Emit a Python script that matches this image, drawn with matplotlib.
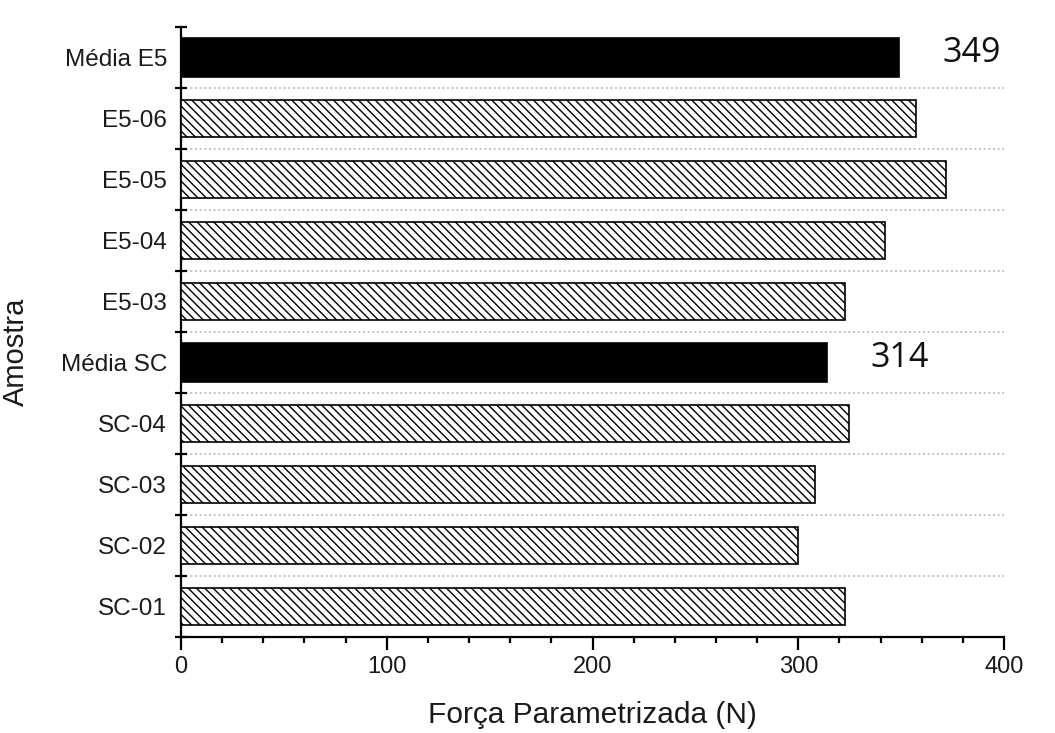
import matplotlib
matplotlib.use("Agg")
import matplotlib.pyplot as plt
from matplotlib.ticker import MultipleLocator, FixedLocator

plt.rcParams["font.family"] = ["Liberation Sans", "DejaVu Sans"]
plt.rcParams["hatch.linewidth"] = 1.0

# Sample names, bottom to top
amostras = ["SC-01", "SC-02", "SC-03", "SC-04", "Média SC",
            "E5-03", "E5-04", "E5-05", "E5-06", "Média E5"]
forca = [322.6, 300, 308, 324.8, 314,
         322.6, 342.2, 371.8, 357.1, 349]
is_media = [False, False, False, False, True,
            False, False, False, False, True]

fig = plt.figure(figsize=(10.55, 7.33), dpi=100)
ax = fig.add_axes([0.1716, 0.131, 0.7801, 0.8322])

pos = list(range(len(amostras)))
for p, v, m in zip(pos, forca, is_media):
    if m:
        ax.barh(p, v, height=0.63, color="black", edgecolor="black",
                linewidth=1.2, zorder=3)
        ax.annotate(f"{v:.0f}", xy=(v, p), xytext=(31, 3),
                    textcoords="offset points", ha="left", va="center",
                    fontsize=24.5, family=["Open Sans", "DejaVu Sans"],
                    color="#111111")
    else:
        ax.barh(p, v, height=0.61, color="white", edgecolor="black",
                hatch="\\\\\\\\", linewidth=1.2, zorder=3)

# Dotted separators between samples
for b in [p + 0.5 for p in pos[:-1]]:
    ax.plot([0, 400], [b, b], color="#c4c4c4", linestyle=(0, (1.0, 1.4)),
            linewidth=1.4, zorder=1)

ax.set_xlim(0, 400)
ax.set_ylim(-0.5, 9.5)

ax.spines["top"].set_visible(False)
ax.spines["right"].set_visible(False)
ax.spines["left"].set_linewidth(1.6)
ax.spines["bottom"].set_linewidth(1.6)

ax.xaxis.set_major_locator(MultipleLocator(100))
ax.xaxis.set_minor_locator(MultipleLocator(20))
ax.tick_params(axis="x", which="major", direction="out", length=9,
               width=1.6, labelsize=17, pad=5, labelcolor="#1a1a1a")
ax.tick_params(axis="x", which="minor", direction="out", length=4.5,
               width=1.6)

ax.set_yticks(pos)
ax.set_yticklabels(amostras)
ax.yaxis.set_minor_locator(FixedLocator([p - 0.5 for p in pos] + [9.5]))
ax.tick_params(axis="y", which="major", length=0, labelsize=17.5, pad=10,
               labelcolor="#1a1a1a")
ax.tick_params(axis="y", which="minor", direction="inout", length=9,
               width=1.6)

ax.set_xlabel("Força Parametrizada (N)", fontsize=21.5, color="#1a1a1a",
              labelpad=16)
ax.set_ylabel("Amostra", fontsize=21, color="#1a1a1a")
ax.yaxis.set_label_coords(-0.1835, 0.467)

fig.savefig("out.png", dpi=100, facecolor="white")
